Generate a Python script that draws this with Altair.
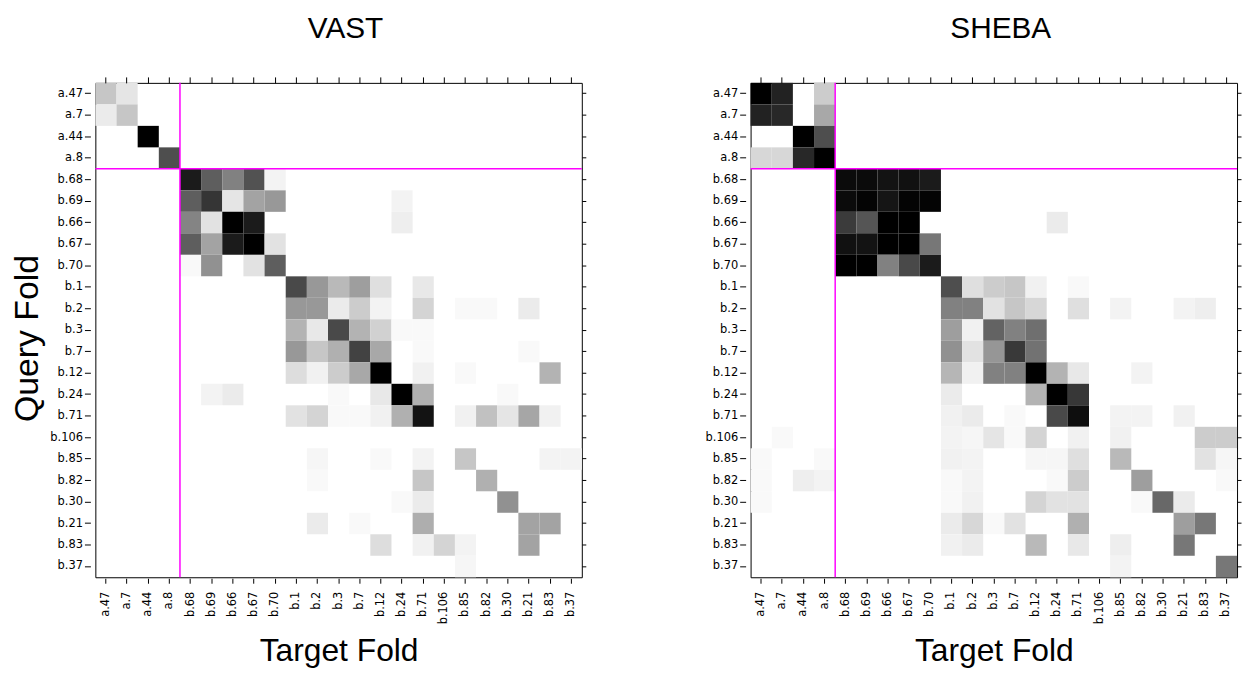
import altair as alt
import pandas as pd

folds = ["a.47", "a.7", "a.44", "a.8", "b.68", "b.69", "b.66", "b.67", "b.70",
         "b.1", "b.2", "b.3", "b.7", "b.12", "b.24", "b.71", "b.106", "b.85",
         "b.82", "b.30", "b.21", "b.83", "b.37"]

# (query fold, target fold, similarity 0..1 -> white..black); unlisted cells are 0
vast_cells = [
    ("a.47", "a.47", 0.20), ("a.47", "a.7", 0.09),
    ("a.7", "a.47", 0.07), ("a.7", "a.7", 0.20),
    ("a.44", "a.44", 1.00),
    ("a.8", "a.8", 0.67),
    ("b.68", "b.68", 0.90), ("b.68", "b.69", 0.60), ("b.68", "b.66", 0.46), ("b.68", "b.67", 0.65), ("b.68", "b.70", 0.04),
    ("b.69", "b.68", 0.60), ("b.69", "b.69", 0.78), ("b.69", "b.66", 0.09), ("b.69", "b.67", 0.33), ("b.69", "b.70", 0.37), ("b.69", "b.24", 0.04),
    ("b.66", "b.68", 0.45), ("b.66", "b.69", 0.10), ("b.66", "b.66", 1.00), ("b.66", "b.67", 0.90), ("b.66", "b.24", 0.06),
    ("b.67", "b.68", 0.60), ("b.67", "b.69", 0.33), ("b.67", "b.66", 0.90), ("b.67", "b.67", 1.00), ("b.67", "b.70", 0.10),
    ("b.70", "b.68", 0.02), ("b.70", "b.69", 0.40), ("b.70", "b.67", 0.10), ("b.70", "b.70", 0.60),
    ("b.1", "b.1", 0.69), ("b.1", "b.2", 0.37), ("b.1", "b.3", 0.25), ("b.1", "b.7", 0.35), ("b.1", "b.12", 0.11), ("b.1", "b.71", 0.08),
    ("b.2", "b.1", 0.37), ("b.2", "b.2", 0.37), ("b.2", "b.3", 0.07), ("b.2", "b.7", 0.18), ("b.2", "b.12", 0.04), ("b.2", "b.71", 0.15),
    ("b.2", "b.85", 0.02), ("b.2", "b.82", 0.02), ("b.2", "b.21", 0.07),
    ("b.3", "b.1", 0.27), ("b.3", "b.2", 0.08), ("b.3", "b.3", 0.69), ("b.3", "b.7", 0.27), ("b.3", "b.12", 0.16), ("b.3", "b.24", 0.02), ("b.3", "b.71", 0.02),
    ("b.7", "b.1", 0.37), ("b.7", "b.2", 0.20), ("b.7", "b.3", 0.28), ("b.7", "b.7", 0.72), ("b.7", "b.12", 0.31), ("b.7", "b.71", 0.02), ("b.7", "b.21", 0.02),
    ("b.12", "b.1", 0.12), ("b.12", "b.2", 0.05), ("b.12", "b.3", 0.18), ("b.12", "b.7", 0.31), ("b.12", "b.12", 1.00), ("b.12", "b.71", 0.05),
    ("b.12", "b.85", 0.02), ("b.12", "b.83", 0.27),
    ("b.24", "b.69", 0.04), ("b.24", "b.66", 0.07), ("b.24", "b.3", 0.02), ("b.24", "b.12", 0.08), ("b.24", "b.24", 1.00), ("b.24", "b.71", 0.28), ("b.24", "b.30", 0.02),
    ("b.71", "b.1", 0.10), ("b.71", "b.2", 0.15), ("b.71", "b.3", 0.02), ("b.71", "b.7", 0.02), ("b.71", "b.12", 0.05), ("b.71", "b.24", 0.28),
    ("b.71", "b.71", 0.94), ("b.71", "b.85", 0.05), ("b.71", "b.82", 0.22), ("b.71", "b.30", 0.09), ("b.71", "b.21", 0.32), ("b.71", "b.83", 0.05),
    ("b.85", "b.2", 0.03), ("b.85", "b.12", 0.02), ("b.85", "b.71", 0.04), ("b.85", "b.85", 0.20), ("b.85", "b.83", 0.04), ("b.85", "b.37", 0.04),
    ("b.82", "b.2", 0.02), ("b.82", "b.71", 0.20), ("b.82", "b.82", 0.28),
    ("b.30", "b.24", 0.02), ("b.30", "b.71", 0.07), ("b.30", "b.30", 0.40),
    ("b.21", "b.2", 0.07), ("b.21", "b.7", 0.02), ("b.21", "b.71", 0.29), ("b.21", "b.21", 0.33), ("b.21", "b.83", 0.33),
    ("b.83", "b.12", 0.12), ("b.83", "b.71", 0.05), ("b.83", "b.106", 0.15), ("b.83", "b.85", 0.04), ("b.83", "b.21", 0.33),
    ("b.37", "b.85", 0.03),
]

sheba_cells = [
    ("a.47", "a.47", 1.00), ("a.47", "a.7", 0.87), ("a.47", "a.8", 0.18),
    ("a.7", "a.47", 0.87), ("a.7", "a.7", 0.84), ("a.7", "a.8", 0.31),
    ("a.44", "a.44", 1.00), ("a.44", "a.8", 0.67),
    ("a.8", "a.47", 0.14), ("a.8", "a.7", 0.14), ("a.8", "a.44", 0.84), ("a.8", "a.8", 1.00),
    ("b.68", "b.68", 0.97), ("b.68", "b.69", 0.97), ("b.68", "b.66", 0.94), ("b.68", "b.67", 0.95), ("b.68", "b.70", 0.90),
    ("b.69", "b.68", 0.97), ("b.69", "b.69", 0.99), ("b.69", "b.66", 0.93), ("b.69", "b.67", 0.99), ("b.69", "b.70", 0.99),
    ("b.66", "b.68", 0.75), ("b.66", "b.69", 0.64), ("b.66", "b.66", 1.00), ("b.66", "b.67", 1.00), ("b.66", "b.24", 0.07),
    ("b.67", "b.68", 0.95), ("b.67", "b.69", 0.94), ("b.67", "b.66", 1.00), ("b.67", "b.67", 1.00), ("b.67", "b.70", 0.50),
    ("b.70", "b.68", 1.00), ("b.70", "b.69", 1.00), ("b.70", "b.66", 0.46), ("b.70", "b.67", 0.69), ("b.70", "b.70", 0.90),
    ("b.1", "b.1", 0.67), ("b.1", "b.2", 0.11), ("b.1", "b.3", 0.18), ("b.1", "b.7", 0.20), ("b.1", "b.12", 0.05), ("b.1", "b.71", 0.02),
    ("b.2", "b.1", 0.46), ("b.2", "b.2", 0.46), ("b.2", "b.3", 0.10), ("b.2", "b.7", 0.20), ("b.2", "b.12", 0.14), ("b.2", "b.71", 0.11),
    ("b.2", "b.85", 0.04), ("b.2", "b.21", 0.04), ("b.2", "b.83", 0.06),
    ("b.3", "b.1", 0.35), ("b.3", "b.2", 0.05), ("b.3", "b.3", 0.58), ("b.3", "b.7", 0.46), ("b.3", "b.12", 0.53),
    ("b.7", "b.1", 0.40), ("b.7", "b.2", 0.10), ("b.7", "b.3", 0.38), ("b.7", "b.7", 0.76), ("b.7", "b.12", 0.52),
    ("b.12", "b.1", 0.26), ("b.12", "b.2", 0.05), ("b.12", "b.3", 0.46), ("b.12", "b.7", 0.46), ("b.12", "b.12", 1.00), ("b.12", "b.24", 0.27),
    ("b.12", "b.71", 0.08), ("b.12", "b.82", 0.04),
    ("b.24", "b.1", 0.07), ("b.24", "b.12", 0.27), ("b.24", "b.24", 1.00), ("b.24", "b.71", 0.77),
    ("b.71", "b.1", 0.05), ("b.71", "b.2", 0.07), ("b.71", "b.7", 0.02), ("b.71", "b.24", 0.69), ("b.71", "b.71", 0.96),
    ("b.71", "b.85", 0.04), ("b.71", "b.82", 0.04), ("b.71", "b.21", 0.05),
    ("b.106", "a.7", 0.02), ("b.106", "b.1", 0.04), ("b.106", "b.2", 0.03), ("b.106", "b.3", 0.09), ("b.106", "b.7", 0.02), ("b.106", "b.12", 0.15),
    ("b.106", "b.71", 0.05), ("b.106", "b.85", 0.05), ("b.106", "b.83", 0.18), ("b.106", "b.37", 0.18),
    ("b.85", "a.47", 0.02), ("b.85", "a.8", 0.02), ("b.85", "b.1", 0.05), ("b.85", "b.2", 0.04), ("b.85", "b.12", 0.03), ("b.85", "b.24", 0.03),
    ("b.85", "b.71", 0.11), ("b.85", "b.85", 0.25), ("b.85", "b.83", 0.10), ("b.85", "b.37", 0.03),
    ("b.82", "a.47", 0.02), ("b.82", "a.44", 0.06), ("b.82", "a.8", 0.04), ("b.82", "b.1", 0.02), ("b.82", "b.2", 0.04), ("b.82", "b.24", 0.02),
    ("b.82", "b.71", 0.18), ("b.82", "b.82", 0.35), ("b.82", "b.37", 0.02),
    ("b.30", "a.47", 0.02), ("b.30", "b.1", 0.02), ("b.30", "b.2", 0.05), ("b.30", "b.12", 0.15), ("b.30", "b.24", 0.10), ("b.30", "b.71", 0.10),
    ("b.30", "b.82", 0.02), ("b.30", "b.30", 0.56), ("b.30", "b.21", 0.07),
    ("b.21", "b.1", 0.07), ("b.21", "b.2", 0.14), ("b.21", "b.3", 0.02), ("b.21", "b.7", 0.10), ("b.21", "b.71", 0.28), ("b.21", "b.21", 0.35), ("b.21", "b.83", 0.50),
    ("b.83", "b.1", 0.05), ("b.83", "b.2", 0.07), ("b.83", "b.12", 0.25), ("b.83", "b.71", 0.08), ("b.83", "b.85", 0.06), ("b.83", "b.21", 0.50),
    ("b.37", "b.85", 0.04), ("b.37", "b.37", 0.50),
]

boundary = ["b.68"]

W, H = 490, 498
MAGENTA = "#ff00ff"


def panel(cells, name, ytitle):
    df = pd.DataFrame(cells, columns=["query", "target", "value"])
    sc = alt.Scale(type="band", domain=folds, paddingInner=0, paddingOuter=0)
    heat = alt.Chart(df).mark_rect().encode(
        x=alt.X("target:N", scale=sc, title="Target Fold",
                axis=alt.Axis(orient="bottom", labelAngle=270, labelAlign="right",
                              labelBaseline="middle", labelPadding=8, tickSize=5,
                              offset=1, domain=False, titlePadding=12)),
        y=alt.Y("query:N", scale=sc, title=ytitle,
                axis=alt.Axis(orient="left", tickSize=6, offset=5, domain=False,
                              labelPadding=2, titlePadding=5, titleFontSize=34,
                              titleY=H / 2 + 8)),
        color=alt.Color("value:Q", legend=None,
                        scale=alt.Scale(domain=[0, 1], range=["#ffffff", "#000000"])),
    )
    ticks = alt.Chart(df).mark_rect(opacity=0).encode(
        x=alt.X("target:N", scale=sc, title=None,
                axis=alt.Axis(orient="top", labels=False, domain=False, tickSize=6)),
        y=alt.Y("query:N", scale=sc, title=None,
                axis=alt.Axis(orient="right", labels=False, domain=False, tickSize=4)),
    )
    bdf = pd.DataFrame({"fold": boundary})
    vrule = alt.Chart(bdf).mark_rule(color=MAGENTA, strokeWidth=1.5).encode(
        x=alt.X("fold:N", scale=sc, bandPosition=0, axis=None)
    )
    hrule = alt.Chart(bdf).mark_rule(color=MAGENTA, strokeWidth=1.5).encode(
        y=alt.Y("fold:N", scale=sc, bandPosition=0, axis=None)
    )
    return alt.layer(heat, ticks, vrule, hrule).resolve_axis(
        x="independent", y="independent"
    ).properties(
        width=W, height=H,
        title=alt.TitleParams(text=name, anchor="middle", offset=33, dx=7),
    )


left = panel(vast_cells, "VAST", "Query Fold")
right = panel(sheba_cells, "SHEBA", None)

chart = alt.hconcat(left, right, spacing=118).configure_view(
    stroke="black", strokeWidth=1
).configure_axis(
    grid=False, labelFont="DejaVu Sans", labelFontSize=11.5, labelColor="black",
    tickColor="black", tickWidth=1, titleFont="Liberation Sans", titleFontSize=32,
    titleFontWeight="normal", titleColor="black",
).configure_title(
    font="Liberation Sans", fontSize=30, fontWeight="normal", color="black"
).properties(
    background="white",
    padding={"left": 2, "top": 3, "right": 0, "bottom": 0},
)

chart.save("out.html", embed_options={"renderer": "svg", "actions": False})
